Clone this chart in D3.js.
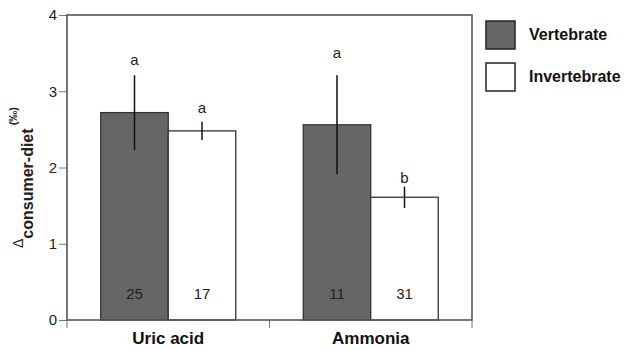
<!DOCTYPE html>
<html>
<head>
<meta charset="utf-8">
<script src="https://cdn.jsdelivr.net/npm/d3@7"></script>
<style>
  html, body { margin: 0; padding: 0; background: #fff; }
  svg { display: block; font-family: "Liberation Sans", Arial, sans-serif; }
</style>
</head>
<body>
<svg id="chart" width="626" height="350"></svg>
<script>
const categories = ["Uric acid", "Ammonia"];
const seriesNames = ["Vertebrate", "Invertebrate"];
const vertebrateMean = [2.72, 2.56];
const invertebrateMean = [2.48, 1.61];
const vertebrateErr = [0.49, 0.65];
const invertebrateErr = [0.12, 0.14];
const vertebrateLetter = ["a", "a"];
const invertebrateLetter = ["a", "b"];
const vertebrateLetterAt = [3.34, 3.44];
const invertebrateLetterAt = [2.71, 1.80];
const vertebrateN = [25, 11];
const invertebrateN = [17, 31];
const yTicks = [0, 1, 2, 3, 4];

const seriesData = {
  Vertebrate: { mean: vertebrateMean, err: vertebrateErr, letter: vertebrateLetter, letterAt: vertebrateLetterAt, n: vertebrateN, fill: "#666666" },
  Invertebrate: { mean: invertebrateMean, err: invertebrateErr, letter: invertebrateLetter, letterAt: invertebrateLetterAt, n: invertebrateN, fill: "#ffffff" }
};

const rows = [];
categories.forEach((c, i) => {
  seriesNames.forEach(s => {
    const d = seriesData[s];
    rows.push({ cat: c, series: s, mean: d.mean[i], err: d.err[i], letter: d.letter[i], letterAt: d.letterAt[i], n: d.n[i], fill: d.fill });
  });
});

const svg = d3.select("#chart");
const pLeft = 67, pRight = 472, pTop = 15, pBottom = 320;

const y = d3.scaleLinear().domain([0, 4]).range([pBottom, pTop]);
const x0 = d3.scaleBand().domain(categories).range([pLeft, pRight]).padding(0);
const bw = x0.bandwidth();
const x1 = d3.scaleBand().domain(seriesNames).range([bw / 6, bw * 5 / 6]).padding(0);

// y axis
const yAxis = svg.append("g")
  .attr("transform", `translate(${pLeft},0)`)
  .call(d3.axisLeft(y).tickValues(yTicks).tickFormat(d3.format("d")).tickSize(8).tickPadding(2));
yAxis.select(".domain").remove();
yAxis.selectAll(".tick line").attr("stroke", "#777").attr("stroke-width", 1);
yAxis.selectAll(".tick text").attr("font-size", 15).attr("fill", "#222")
  .attr("font-family", "'Liberation Sans', Arial, sans-serif");

// x ticks at band boundaries
const xBounds = [x0(categories[0])].concat(categories.map(c => x0(c) + bw));
svg.append("g").selectAll("line").data(xBounds).join("line")
  .attr("x1", d => d).attr("x2", d => d)
  .attr("y1", pBottom).attr("y2", pBottom + 8)
  .attr("stroke", "#777").attr("stroke-width", 1);

// category labels
svg.append("g").selectAll("text").data(categories).join("text")
  .attr("x", d => x0(d) + bw / 2)
  .attr("y", 344)
  .attr("text-anchor", "middle")
  .attr("font-size", 17)
  .attr("font-weight", "bold")
  .attr("fill", "#111")
  .text(d => d);

// bars
svg.append("g").selectAll("rect").data(rows).join("rect")
  .attr("x", d => x0(d.cat) + x1(d.series))
  .attr("y", d => y(d.mean))
  .attr("width", x1.bandwidth())
  .attr("height", d => y(0) - y(d.mean))
  .attr("fill", d => d.fill)
  .attr("stroke", "#333")
  .attr("stroke-width", 1.3);

// error bars
svg.append("g").selectAll("line").data(rows).join("line")
  .attr("x1", d => x0(d.cat) + x1(d.series) + x1.bandwidth() / 2)
  .attr("x2", d => x0(d.cat) + x1(d.series) + x1.bandwidth() / 2)
  .attr("y1", d => y(d.mean + d.err))
  .attr("y2", d => y(d.mean - d.err))
  .attr("stroke", "#111")
  .attr("stroke-width", 1.5);

// significance letters
svg.append("g").selectAll("text").data(rows).join("text")
  .attr("x", d => x0(d.cat) + x1(d.series) + x1.bandwidth() / 2)
  .attr("y", d => y(d.letterAt))
  .attr("text-anchor", "middle")
  .attr("font-size", 15)
  .attr("fill", "#222")
  .text(d => d.letter);

// sample sizes
svg.append("g").selectAll("text").data(rows).join("text")
  .attr("x", d => x0(d.cat) + x1(d.series) + x1.bandwidth() / 2)
  .attr("y", 298.5)
  .attr("text-anchor", "middle")
  .attr("font-size", 15)
  .attr("fill", "#222")
  .text(d => d.n);

// frame
svg.append("rect")
  .attr("x", pLeft).attr("y", pTop)
  .attr("width", pRight - pLeft).attr("height", pBottom - pTop)
  .attr("fill", "none").attr("stroke", "#555").attr("stroke-width", 1.6);

// y label
const yl = svg.append("text")
  .attr("transform", `translate(33,${(pTop + pBottom) / 2 + 10}) rotate(-90)`)
  .attr("text-anchor", "middle")
  .attr("fill", "#222");
yl.append("tspan").attr("font-size", 14).attr("dy", -10).text("Δ");
yl.append("tspan").attr("font-size", 16).attr("font-weight", "bold").attr("dy", 10).text("consumer-diet");
yl.append("tspan").attr("font-size", 11).attr("font-weight", "bold").attr("dy", -16).text(" (‰)");

// legend
const legend = svg.append("g");
seriesNames.forEach((s, i) => {
  const g = legend.append("g").attr("transform", `translate(486,${21 + i * 42})`);
  g.append("rect").attr("width", 29).attr("height", 28)
    .attr("fill", seriesData[s].fill).attr("stroke", "#222").attr("stroke-width", 1.5);
  g.append("text").attr("x", 43).attr("y", 19)
    .attr("font-size", 16).attr("font-weight", "bold").attr("fill", "#111")
    .text(s);
});
</script>
</body>
</html>
